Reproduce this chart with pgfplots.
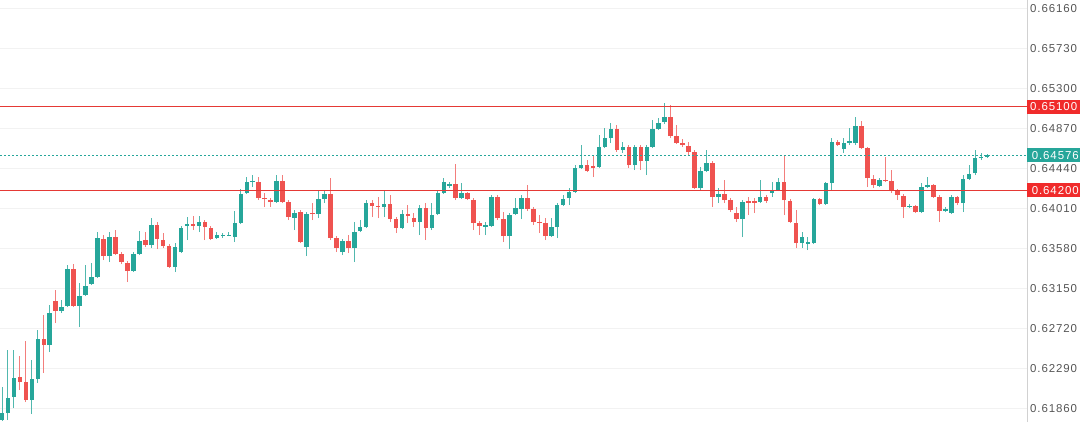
\documentclass[border=0pt]{standalone}
\usepackage{pgfplots}
\pgfplotsset{compat=1.18}
\usepackage{pgfplotstable}
\usepackage{fontspec}
\setmainfont{Liberation Sans}
\newfontfamily\tickfont[LetterSpace=8]{Liberation Sans}
\definecolor{cgreen}{HTML}{26A69A}
\definecolor{cred}{HTML}{EF5350}
\definecolor{lred}{HTML}{E53935}
\definecolor{bred}{HTML}{F02B2B}
\definecolor{tickgray}{HTML}{555555}

\pgfplotstableread{
x o h l c
1 0.61731 0.62086 0.61720 0.61806
2 0.61806 0.62484 0.61731 0.61968
3 0.61978 0.62484 0.61860 0.62183
6 0.61946 0.62376 0.61796 0.62172
7 0.62172 0.62699 0.62129 0.62602
9 0.62537 0.62967 0.62462 0.62881
11 0.62903 0.63021 0.62881 0.62946
12 0.62957 0.63397 0.62946 0.63354
14 0.62957 0.63204 0.62731 0.63064
15 0.63075 0.63397 0.63064 0.63172
16 0.63193 0.63419 0.63182 0.63268
17 0.63268 0.63752 0.63258 0.63688
19 0.63494 0.63752 0.63430 0.63698
23 0.63333 0.63537 0.63322 0.63516
24 0.63516 0.63763 0.63505 0.63655
26 0.63612 0.63903 0.63580 0.63827
30 0.63376 0.63634 0.63322 0.63591
31 0.63537 0.63817 0.63526 0.63795
32 0.63817 0.63914 0.63666 0.63838
34 0.63817 0.63925 0.63752 0.63860
37 0.63688 0.63752 0.63677 0.63720
38 0.63715 0.63741 0.63688 0.63725
39 0.63715 0.63752 0.63709 0.63725
40 0.63698 0.63978 0.63645 0.63849
41 0.63849 0.64214 0.63838 0.64161
42 0.64171 0.64343 0.64161 0.64290
43 0.64290 0.64365 0.64236 0.64300
47 0.64075 0.64365 0.64064 0.64300
50 0.63903 0.63989 0.63774 0.63956
52 0.63591 0.63967 0.63494 0.63946
54 0.63946 0.64204 0.63903 0.64107
55 0.64107 0.64204 0.64064 0.64161
58 0.63537 0.63677 0.63505 0.63655
60 0.63580 0.63860 0.63430 0.63752
61 0.63763 0.63881 0.63752 0.63806
62 0.63806 0.64096 0.63795 0.64064
65 0.64021 0.64193 0.63914 0.64053
68 0.63795 0.63989 0.63784 0.63946
71 0.63860 0.64042 0.63720 0.64010
73 0.63795 0.64064 0.63774 0.63935
74 0.63946 0.64204 0.63935 0.64171
75 0.64171 0.64333 0.64161 0.64290
76 0.64247 0.64290 0.64225 0.64268
78 0.64118 0.64279 0.64107 0.64171
82 0.63811 0.63860 0.63720 0.63827
83 0.63817 0.64150 0.63806 0.64128
86 0.63709 0.63956 0.63569 0.63935
87 0.63946 0.64118 0.63935 0.64010
88 0.63999 0.64150 0.63892 0.64118
93 0.63709 0.63903 0.63698 0.63806
94 0.63806 0.64064 0.63688 0.64042
95 0.64042 0.64150 0.64032 0.64107
96 0.64118 0.64225 0.64042 0.64182
97 0.64182 0.64472 0.64171 0.64440
98 0.64440 0.64687 0.64429 0.64472
101 0.64451 0.64795 0.64440 0.64666
102 0.64666 0.64870 0.64655 0.64763
103 0.64763 0.64924 0.64709 0.64859
105 0.64634 0.64720 0.64601 0.64666
107 0.64472 0.64687 0.64419 0.64666
109 0.64515 0.64687 0.64365 0.64666
110 0.64666 0.64956 0.64655 0.64859
111 0.64859 0.64978 0.64849 0.64924
112 0.64935 0.65139 0.64913 0.64988
118 0.64225 0.64451 0.64204 0.64408
119 0.64408 0.64634 0.64397 0.64494
121 0.64128 0.64225 0.64064 0.64161
125 0.63892 0.64096 0.63698 0.64075
128 0.64075 0.64311 0.64064 0.64128
130 0.64171 0.64290 0.64128 0.64204
131 0.64204 0.64333 0.64193 0.64290
135 0.63634 0.63752 0.63580 0.63698
136 0.63628 0.63698 0.63559 0.63645
137 0.63634 0.64118 0.63623 0.64107
139 0.64053 0.64290 0.64042 0.64279
140 0.64279 0.64763 0.64204 0.64720
142 0.64644 0.64763 0.64601 0.64709
143 0.64709 0.64870 0.64687 0.64730
144 0.64709 0.64988 0.64687 0.64892
148 0.64247 0.64333 0.64236 0.64311
153 0.64021 0.64053 0.64010 0.64032
155 0.63967 0.64279 0.63956 0.64236
156 0.64236 0.64343 0.64225 0.64257
159 0.63978 0.64021 0.63967 0.63999
160 0.63956 0.64150 0.63946 0.64128
162 0.64064 0.64365 0.63967 0.64322
163 0.64322 0.64472 0.64311 0.64376
164 0.64386 0.64634 0.64365 0.64548
165 0.64548 0.64601 0.64526 0.64558
166 0.64558 0.64591 0.64548 0.64576
}\upcandles

\pgfplotstableread{
x o h l c
4 0.62193 0.62419 0.62054 0.62140
5 0.62140 0.62580 0.61925 0.61946
8 0.62602 0.62860 0.62236 0.62537
10 0.63010 0.63129 0.62774 0.62903
13 0.63354 0.63408 0.62946 0.62957
18 0.63677 0.63720 0.63451 0.63494
20 0.63698 0.63774 0.63505 0.63516
21 0.63516 0.63537 0.63408 0.63430
22 0.63419 0.63440 0.63215 0.63333
25 0.63666 0.63752 0.63591 0.63612
27 0.63827 0.63860 0.63569 0.63677
28 0.63666 0.63741 0.63580 0.63602
29 0.63602 0.63623 0.63365 0.63376
33 0.63838 0.63925 0.63774 0.63817
35 0.63860 0.63881 0.63666 0.63806
36 0.63795 0.63817 0.63666 0.63677
44 0.64290 0.64343 0.64096 0.64118
45 0.64118 0.64171 0.64021 0.64107
46 0.64096 0.64118 0.64021 0.64075
48 0.64300 0.64365 0.64064 0.64075
49 0.64075 0.64096 0.63881 0.63914
51 0.63967 0.63989 0.63634 0.63645
53 0.63956 0.64064 0.63881 0.63946
56 0.64161 0.64333 0.63666 0.63688
57 0.63688 0.63709 0.63537 0.63580
59 0.63655 0.63720 0.63526 0.63580
63 0.64064 0.64096 0.63914 0.64032
64 0.64032 0.64128 0.63903 0.64021
66 0.64053 0.64150 0.63860 0.63892
67 0.63892 0.63914 0.63741 0.63795
69 0.63946 0.64042 0.63849 0.63925
70 0.63903 0.63956 0.63806 0.63860
72 0.64010 0.64064 0.63666 0.63795
77 0.64268 0.64483 0.64096 0.64118
79 0.64171 0.64182 0.64096 0.64107
80 0.64096 0.64118 0.63774 0.63849
81 0.63849 0.63870 0.63720 0.63817
84 0.64128 0.64150 0.63881 0.63903
85 0.63892 0.63967 0.63645 0.63709
89 0.64118 0.64257 0.63978 0.63999
90 0.63999 0.64021 0.63827 0.63860
91 0.63860 0.63935 0.63741 0.63849
92 0.63849 0.63903 0.63666 0.63709
99 0.64472 0.64526 0.64397 0.64408
100 0.64462 0.64580 0.64343 0.64440
104 0.64859 0.64902 0.64612 0.64634
106 0.64666 0.64687 0.64440 0.64472
108 0.64666 0.64687 0.64419 0.64515
113 0.64988 0.65117 0.64763 0.64784
114 0.64784 0.64902 0.64698 0.64709
115 0.64709 0.64752 0.64666 0.64687
116 0.64677 0.64720 0.64580 0.64612
117 0.64612 0.64634 0.64214 0.64225
120 0.64494 0.64515 0.64021 0.64128
122 0.64161 0.64311 0.64064 0.64096
123 0.64096 0.64118 0.63967 0.63989
124 0.63956 0.64021 0.63860 0.63892
126 0.64085 0.64128 0.63935 0.64069
127 0.64085 0.64118 0.63956 0.64069
129 0.64128 0.64150 0.64064 0.64085
132 0.64290 0.64580 0.63935 0.64096
133 0.64085 0.64107 0.63849 0.63860
134 0.63849 0.63989 0.63580 0.63634
138 0.64107 0.64118 0.64042 0.64053
141 0.64720 0.64741 0.64677 0.64687
145 0.64892 0.64945 0.64644 0.64655
146 0.64655 0.64666 0.64236 0.64333
147 0.64322 0.64365 0.64225 0.64257
149 0.64311 0.64558 0.64290 0.64300
150 0.64300 0.64419 0.64171 0.64193
151 0.64193 0.64214 0.64096 0.64150
152 0.64139 0.64161 0.63903 0.64021
154 0.64032 0.64042 0.63956 0.63967
157 0.64257 0.64268 0.64118 0.64128
158 0.64128 0.64150 0.63860 0.63978
161 0.64128 0.64139 0.64042 0.64064
}\downcandles

\begin{document}
\begin{tikzpicture}
\begin{axis}[
  at={(0,0)}, anchor=south west,
  scale only axis, width=770.25pt, height=316.5pt,
  xmin=0.665, xmax=172.69, ymin=0.61710, ymax=0.66246,
  axis line style={draw=none},
  xtick=\empty,
  ytick={0.6186,0.6229,0.6272,0.6315,0.6358,0.6401,0.6444,0.6487,0.6530,0.6573,0.6616},
  yticklabels={0.61860,0.62290,0.62720,0.63150,0.63580,0.64010,0.64440,0.64870,0.65300,0.65730,0.66160},
  yticklabel pos=right,
  major tick length=0pt,
  ymajorgrids, grid style={color=black!5, line width=0.6pt},
  yticklabel style={font=\tickfont\fontsize{8.6}{10}\selectfont, text=tickgray, anchor=west, xshift=-1.2pt},
  clip=false,
]
% wicks
\addplot[draw=none, mark=none, forget plot, error bars/.cd, y dir=plus, y explicit,
  error mark=none, error bar style={draw=cgreen!80, line width=0.75pt}]
  table[x=x, y=l, y error expr=\thisrow{h}-\thisrow{l}] {\upcandles};
\addplot[draw=none, mark=none, forget plot, error bars/.cd, y dir=plus, y explicit,
  error mark=none, error bar style={draw=cred!75, line width=0.75pt}]
  table[x=x, y=l, y error expr=\thisrow{h}-\thisrow{l}] {\downcandles};
% bodies
\addplot[draw=none, mark=none, forget plot, error bars/.cd, y dir=plus, y explicit,
  error mark=none, error bar style={draw=cgreen, line width=3.4pt}]
  table[x=x, y=o, y error expr=\thisrow{c}-\thisrow{o}] {\upcandles};
\addplot[draw=none, mark=none, forget plot, error bars/.cd, y dir=plus, y explicit,
  error mark=none, error bar style={draw=cred, line width=3.4pt}]
  table[x=x, y=c, y error expr=\thisrow{o}-\thisrow{c}] {\downcandles};
% level lines
\draw[lred, line width=0.8pt] (axis cs:0.665,0.6510) -- (axis cs:172.69,0.6510);
\draw[lred, line width=0.8pt] (axis cs:0.665,0.6420) -- (axis cs:172.69,0.6420);
\draw[cgreen, line width=0.7pt, dash pattern=on 1.5pt off 1.5pt] (axis cs:0.665,0.64576) -- (axis cs:172.69,0.64576);
% right axis line
\draw[black!18, line width=0.75pt] (rel axis cs:1,0) -- (rel axis cs:1,1);
% price tags
\fill[lred] (axis cs:172.69,0.6510) ++(-1.2pt,0) circle (1.6pt);
\fill[lred] (axis cs:172.69,0.6420) ++(-1.2pt,0) circle (1.6pt);
\node[anchor=west, fill=bred, text=white, inner xsep=2.2pt, inner ysep=0pt, minimum height=10.5pt, minimum width=42pt, text depth=0pt,
  font=\tickfont\fontsize{8.6}{10}\selectfont, align=left] at (axis cs:172.69,0.6510) {0.65100\hspace{6pt}};
\node[anchor=west, fill=cgreen, text=white, inner xsep=2.2pt, inner ysep=0pt, minimum height=10.5pt, minimum width=42pt,
  font=\tickfont\fontsize{8.6}{10}\selectfont] at (axis cs:172.69,0.64576) {0.64576\hspace{6pt}};
\node[anchor=west, fill=bred, text=white, inner xsep=2.2pt, inner ysep=0pt, minimum height=10.5pt, minimum width=42pt,
  font=\tickfont\fontsize{8.6}{10}\selectfont] at (axis cs:172.69,0.6420) {0.64200\hspace{6pt}};
\end{axis}
\pgfresetboundingbox
\path[use as bounding box] (0,0) rectangle (810pt,316.5pt);
\end{tikzpicture}
\end{document}
